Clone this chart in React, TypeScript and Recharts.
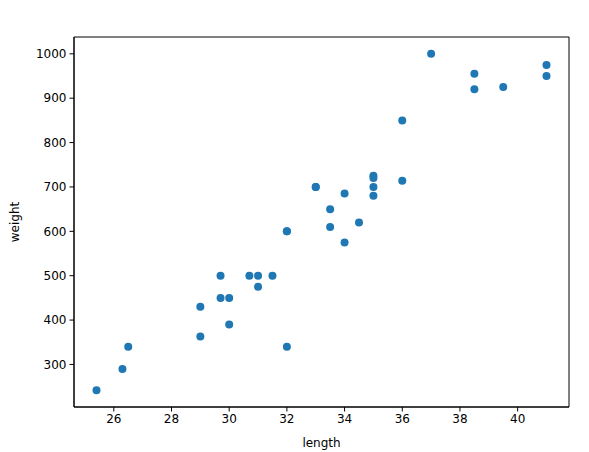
import {
  ScatterChart,
  Scatter,
  XAxis,
  YAxis,
  ReferenceArea,
} from "recharts";

const lengths = [
  25.4, 26.3, 26.5, 29.0, 29.0, 29.7, 29.7, 30.0, 30.0, 30.7, 31.0, 31.0,
  31.5, 32.0, 32.0, 32.0, 33.0, 33.0, 33.5, 33.5, 34.0, 34.0, 34.5, 35.0,
  35.0, 35.0, 35.0, 36.0, 36.0, 37.0, 38.5, 38.5, 39.5, 41.0, 41.0,
];

const weights = [
  242, 290, 340, 363, 430, 450, 500, 390, 450, 500, 475, 500, 500, 340, 600,
  600, 700, 700, 610, 650, 575, 685, 620, 680, 700, 725, 720, 714, 850, 1000,
  920, 955, 925, 975, 950,
];

const xTicks = [26, 28, 30, 32, 34, 36, 38, 40];
const yTicks = [300, 400, 500, 600, 700, 800, 900, 1000];

const X_DOMAIN: [number, number] = [24.62, 41.78];
const Y_DOMAIN: [number, number] = [204.1, 1037.9];

const data = lengths.map((l, i) => ({ length: l, weight: weights[i] }));

const tickStyle = { fill: "#000", fontSize: 12, fontFamily: "DejaVu Sans" };

const Dot = (props: any) => (
  <circle cx={props.cx} cy={props.cy} r={4} fill="#1f77b4" />
);

export default function App() {
  return (
    <div style={{ position: "absolute", left: 0, top: 0, background: "#fff" }}>
      <ScatterChart
        width={589}
        height={452}
        margin={{ top: 37, right: 20, bottom: 0, left: 0 }}
      >
        <XAxis
          type="number"
          dataKey="length"
          domain={X_DOMAIN}
          ticks={xTicks}
          allowDataOverflow
          height={45}
          tick={tickStyle}
          tickSize={4.5}
          tickMargin={3}
          stroke="#000"
          label={{
            value: "length",
            position: "insideBottom",
            offset: 5,
            style: { fill: "#000", fontSize: 12, fontFamily: "DejaVu Sans" },
          }}
        />
        <YAxis
          type="number"
          dataKey="weight"
          domain={Y_DOMAIN}
          ticks={yTicks}
          allowDataOverflow
          width={74}
          tick={tickStyle}
          tickSize={4.5}
          tickMargin={3}
          stroke="#000"
          label={{
            value: "weight",
            angle: -90,
            position: "insideLeft",
            offset: 15,
            style: {
              fill: "#000",
              fontSize: 12,
              fontFamily: "DejaVu Sans",
              textAnchor: "middle",
            },
          }}
        />
        <ReferenceArea
          x1={X_DOMAIN[0]}
          x2={X_DOMAIN[1]}
          y1={Y_DOMAIN[0]}
          y2={Y_DOMAIN[1]}
          fill="none"
          stroke="#000"
          strokeWidth={1}
          ifOverflow="visible"
        />
        <Scatter data={data} shape={Dot} isAnimationActive={false} />
      </ScatterChart>
    </div>
  );
}
